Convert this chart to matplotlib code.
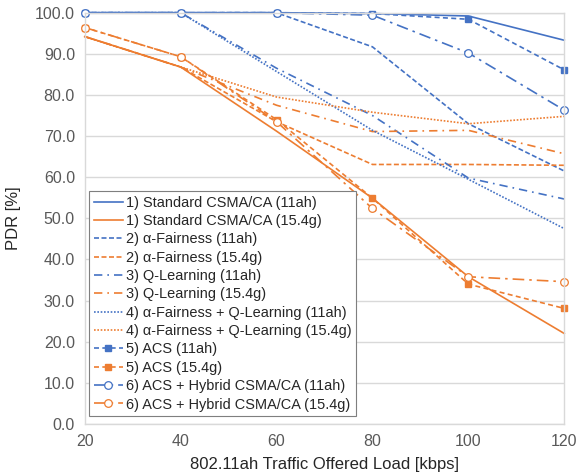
import matplotlib
matplotlib.use("Agg")
import matplotlib.pyplot as plt

plt.rcParams['font.family'] = ['Liberation Sans', 'DejaVu Sans']

loads = [20, 40, 60, 80, 100, 120]
x_ticks = [20, 40, 60, 80, 100, 120]
y_ticks = [0, 10, 20, 30, 40, 50, 60, 70, 80, 90, 100]

std_11ah = [100.0, 100.0, 100.0, 99.8, 99.2, 93.3]
std_154g = [94.2, 86.8, 71.2, 54.9, 35.8, 22.0]
af_11ah = [100.0, 100.0, 100.0, 91.7, 73.0, 61.5]
af_154g = [94.2, 86.8, 73.5, 63.1, 63.1, 62.9]
ql_11ah = [100.0, 100.0, 86.5, 75.0, 59.8, 54.7]
ql_154g = [94.2, 86.8, 77.5, 71.1, 71.4, 65.7]
afql_11ah = [100.0, 100.0, 85.7, 71.4, 59.5, 47.5]
afql_154g = [94.2, 86.8, 79.5, 75.8, 73.0, 74.8]
acs_11ah = [100.0, 100.0, 100.0, 99.8, 98.4, 86.1]
acs_154g = [96.4, 89.3, 74.0, 54.9, 34.0, 28.1]
hyb_11ah = [100.0, 100.0, 100.0, 99.4, 90.2, 76.3]
hyb_154g = [96.4, 89.3, 73.5, 52.4, 35.8, 34.6]

labels = [
    "1) Standard CSMA/CA (11ah)", "1) Standard CSMA/CA (15.4g)",
    "2) α-Fairness (11ah)", "2) α-Fairness (15.4g)",
    "3) Q-Learning (11ah)", "3) Q-Learning (15.4g)",
    "4) α-Fairness + Q-Learning (11ah)", "4) α-Fairness + Q-Learning (15.4g)",
    "5) ACS (11ah)", "5) ACS (15.4g)",
    "6) ACS + Hybrid CSMA/CA (11ah)", "6) ACS + Hybrid CSMA/CA (15.4g)",
]

BLUE = "#4472C4"
ORANGE = "#ED7D31"

fig = plt.figure(figsize=(5.79, 4.74), dpi=100)
ax = fig.add_axes([0.1463, 0.1055, 0.8283, 0.8677])

lw = 1.2
dash = (0, (3, 1.5))
dashdot = (0, (5, 3, 1, 3))
dotted = (0, (1, 1))
acsdash = (0, (3, 2))
hybdash = (0, (7, 3, 1.5, 3))

series = [
    (std_11ah, BLUE, '-', None), (std_154g, ORANGE, '-', None),
    (af_11ah, BLUE, dash, None), (af_154g, ORANGE, dash, None),
    (ql_11ah, BLUE, dashdot, None), (ql_154g, ORANGE, dashdot, None),
    (afql_11ah, BLUE, dotted, None), (afql_154g, ORANGE, dotted, None),
    (acs_11ah, BLUE, acsdash, 's'), (acs_154g, ORANGE, acsdash, 's'),
    (hyb_11ah, BLUE, hybdash, 'o'), (hyb_154g, ORANGE, hybdash, 'o'),
]

for (vals, col, ls, mk), lab in zip(series, labels):
    kw = dict(color=col, linestyle=ls, linewidth=lw, label=lab, clip_on=False)
    if mk == 's':
        kw.update(marker='s', markersize=4.5, markerfacecolor=col, markeredgecolor=col)
    elif mk == 'o':
        kw.update(marker='o', markersize=5.5, markerfacecolor='white',
                  markeredgecolor=col, markeredgewidth=0.9)
    ax.plot(loads, vals, **kw)

ax.set_xlim(20, 120)
ax.set_ylim(0, 100)
ax.set_xticks(x_ticks)
ax.set_yticks(y_ticks)
ax.set_yticklabels([f"{v:.1f}" for v in y_ticks])
ax.grid(axis='y', color='#d9d9d9', linewidth=1.0)
ax.set_axisbelow(True)
for s in ax.spines.values():
    s.set_color('#d9d9d9')
    s.set_linewidth(1.0)
ax.tick_params(axis='both', length=0, labelsize=11.5, labelcolor='#595959', pad=7)

ax.set_xlabel("802.11ah Traffic Offered Load [kbps]", fontsize=12, color='#262626', labelpad=6)
ax.set_ylabel("PDR [%]", fontsize=12, color='#262626', labelpad=10)

leg = ax.legend(loc='lower left', bbox_to_anchor=(0.009, 0.019), borderaxespad=0,
                fontsize=10.45, frameon=True, fancybox=False, framealpha=1,
                edgecolor='#7f7f7f', handlelength=2.0, handletextpad=0.22,
                labelspacing=0.3, borderpad=0.32)
leg.get_frame().set_linewidth(0.8)
leg.set_zorder(5)
for t in leg.get_texts():
    t.set_color('#262626')

fig.savefig("out.png", dpi=100)
